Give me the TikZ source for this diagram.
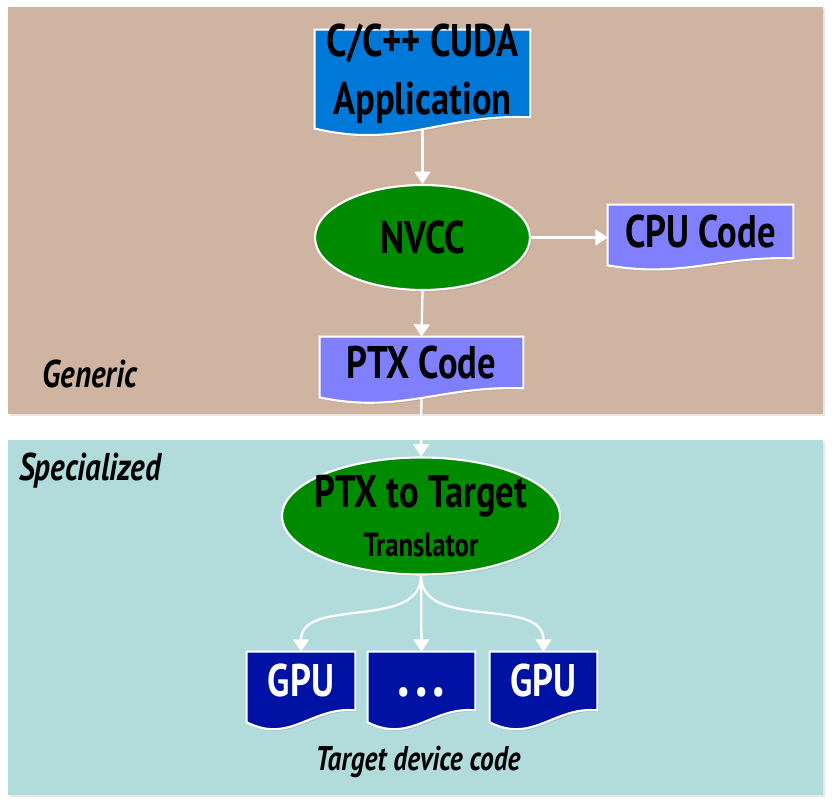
\documentclass[tikz,border=0pt]{standalone}
\usepackage{fontspec}
\newfontfamily\condfont{PT Sans}[FakeStretch=0.8]
\usetikzlibrary{shapes.geometric,arrows.meta,calc,shadows}
\pgfdeclarelayer{background}
\pgfsetlayers{background,main}

\definecolor{tanpanel}{RGB}{207,180,162}
\definecolor{tealpanel}{RGB}{178,219,219}
\definecolor{appblue}{RGB}{0,120,215}
\definecolor{codeblue}{RGB}{128,128,255}
\definecolor{gpublue}{RGB}{0,18,163}
\definecolor{nvgreen}{RGB}{0,138,0}

\begin{document}
\begin{tikzpicture}
[x=0.02cm,y=-0.02cm,
 every node/.style={font=\condfont\bfseries\fontsize{26}{33}\selectfont},
 docnode/.style={rectangle,inner sep=0pt},
 blob/.style={ellipse,fill=nvgreen,draw=white,line width=1.2pt,inner xsep=-0.9cm,inner ysep=-0.3cm,
   drop shadow={shadow xshift=1pt,shadow yshift=-1pt,opacity=0.25}},
 flow/.style={white,line width=1.3pt,-{Triangle[length=7pt,width=9pt]}},
 tag/.style={font=\condfont\bfseries\itshape\fontsize{22}{26}\selectfont}]

  \useasboundingbox (0,0) rectangle (834,803);

  % generic / specialized panels
  \begin{pgfonlayer}{background}
    \fill[tanpanel,drop shadow={shadow xshift=1pt,shadow yshift=-1pt,opacity=0.2}] (8,7) rectangle (823,414);
    \fill[tealpanel,drop shadow={shadow xshift=1pt,shadow yshift=-1pt,opacity=0.2}] (8,440) rectangle (823,795);
  \end{pgfonlayer}

  \node (app) at (422.5,73.5) [docnode,align=center,minimum width=4.3cm,minimum height=1.74cm,inner ysep=-0.2cm] {C/C++ CUDA\\Application};
  \node (nvcc) at (422.5,237.5) [blob,minimum width=4.3cm,minimum height=2.1cm] {NVCC};
  \node (cpu) at (700.5,231.5) [docnode,minimum width=3.7cm,minimum height=1.06cm] {CPU Code};
  \node (ptx) at (421.5,362.5) [docnode,minimum width=4.06cm,minimum height=1.02cm] {PTX Code};
  \node (trans) at (421,516) [blob,align=center,minimum width=5.56cm,minimum height=2.34cm] {PTX to Target\\[-5pt]{\fontsize{19}{22}\selectfont Translator}};
  \node (gpuA) at (301,681) [docnode,text=white,minimum width=2.16cm,minimum height=1.16cm] {GPU};
  \node (gpuB) at (421.5,681) [docnode,text=white,minimum width=2.14cm,minimum height=1.16cm] {\vphantom{GPU}{\fontsize{36}{40}\selectfont.\kern3pt.\kern3pt.}};
  \node (gpuC) at (543.5,681) [docnode,text=white,minimum width=2.14cm,minimum height=1.16cm] {GPU};

  \node (gen) at (90,374) [tag] {Generic};
  \node (spec) at (90,471) [tag] {Specialized};
  \node (target) at (418,762) [tag,font=\condfont\bfseries\itshape\fontsize{19.5}{24}\selectfont] {Target device code};

  % document shapes with a wavy bottom
  \begin{pgfonlayer}{background}
    \foreach \n/\c/\a in {app/appblue/1.6, cpu/codeblue/1, ptx/codeblue/1.3, gpuA/gpublue/1.7, gpuB/gpublue/1.7, gpuC/gpublue/1.7}
      \filldraw[fill=\c,draw=white,line width=1.2pt,drop shadow={shadow xshift=1pt,shadow yshift=-1pt,opacity=0.25}]
        (\n.north west) -- (\n.north east) -- (\n.south east)
        .. controls ($(\n.south east)!0.4!(\n.south west)+(0pt,{\a*0.05cm})$) and ($(\n.south east)!0.6!(\n.south west)+(0pt,{-\a*0.4cm})$)
        .. ($(\n.south west)+(0pt,{-\a*0.14cm})$) -- cycle;
  \end{pgfonlayer}

  \draw[flow,shorten <=0.24cm] (app.south) -- (nvcc.north);
  \draw[flow,shorten <=0.2cm] (ptx.south) -- (trans.north);
  \draw[flow] (nvcc.east) -- (nvcc.east -| cpu.west);

  \foreach \from/\to in {nvcc/ptx, trans/gpuB}
    \draw[flow] (\from.south) -- (\to.north);
  \foreach \to in {gpuA, gpuC}
    \draw[flow] (trans.south) to[out=-90,in=90] (\to.north);

\end{tikzpicture}
\end{document}
